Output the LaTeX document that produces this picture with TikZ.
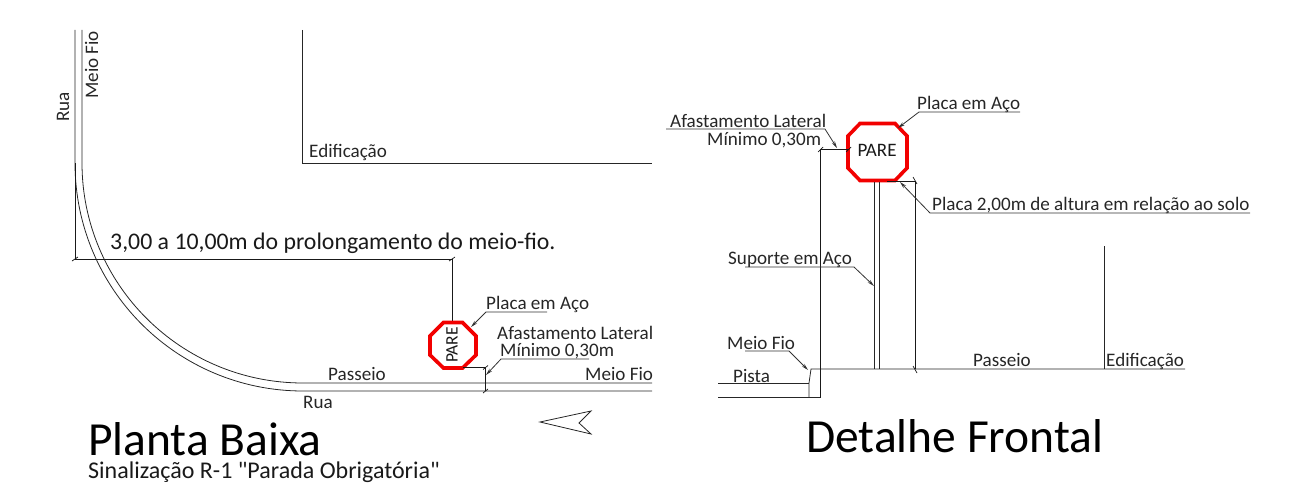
\documentclass[tikz,border=0pt]{standalone}
\usepackage{fontspec}
\setmainfont{Carlito}
\newfontfamily\rawfont{Carlito}
\usetikzlibrary{arrows.meta}
\tikzset{
  ln/.style={draw=black!85,line width=0.8pt},
  dim/.style={draw=black!90,line width=0.7pt},
  lead/.style={draw=black!80,line width=0.8pt,-{Stealth[length=7pt,width=3.5pt]}},
  lbl/.style={inner sep=0pt,anchor=base west,text=black!85,font=\fontsize{19.1}{19}\selectfont},
  lblv/.style={inner sep=0pt,anchor=base west,rotate=90,text=black!85,font=\fontsize{19.1}{19}\selectfont},
  sign/.style={draw=red!95!black,line width=3.6pt,line join=miter,fill=white},
}
\begin{document}
\begin{tikzpicture}[x=1pt,y=-1pt]
\useasboundingbox (0,0) rectangle (1303,495);
% ---------- plan ----------
\coordinate (ro) at (75,30); \coordinate (ri) at (82,30);
\coordinate (ca) at (75,163); \coordinate (cb) at (82,163);
\coordinate (fa) at (303,391); \coordinate (fb) at (303,383);
\coordinate (ea) at (652,391); \coordinate (eb) at (652,383);
\draw[ln] (ro) -- (ca) .. controls (75,289) and (177,391) .. (fa) -- (ea);
\draw[ln] (ri) -- (cb) .. controls (82,284.5) and (181,383) .. (fb) -- (eb);
\coordinate (ed1) at (302,30); \coordinate (ed2) at (302,163); \coordinate (ed3) at (652,163);
\draw[ln] (ed1) -- (ed2) -- (ed3);
\node[lbl] (tEd1) at (309,157) {Edificação};
\node[lblv] (tRua1) at (69,122) {Rua};
\node[lblv] (tMF1) at (98,99) {Meio Fio};
\node[lbl] (tPas1) at (328,380) {Passeio};
\node[lbl] (tRua2) at (303,408) {Rua};
\node[lbl] (tMF2) at (585,380) {Meio Fio};
% dimension along kerb extension
\coordinate (d2) at (75,259); \coordinate (d3) at (452,259); \coordinate (d4) at (452,322);
\draw[dim] (ca) -- (d2) -- (d3) -- (d4);
\draw[dim] (72,261) -- (78,257) (449,261) -- (455,257);
\node[inner sep=0pt,anchor=base west,text=black!90,font=\fontsize{23.8}{24}\selectfont] (tDim) at (110,249) {3,00 a 10,00m do prolongamento do meio-fio.};
% plan sign
\draw[sign] (443.5,322.5) -- (462.5,322.5) -- (476,336) -- (476,355) -- (462.5,368) -- (443.5,368) -- (430,355) -- (430,336) -- cycle;
\node[inner sep=0pt,rotate=90,text=black!90,font=\fontsize{17.5}{17.5}\selectfont] (pare1) at (452,345) {PARE};
% plan labels
\node[lbl] (tPl1) at (486,309) {Placa em Aço};
\coordinate (l1a) at (547,312); \coordinate (l1b) at (486,312); \coordinate (l1c) at (471,327);
\draw[lead] (l1a) -- (l1b) -- (l1c);
\node[lbl] (tAf1) at (497,339) {Afastamento Lateral};
\node[lbl] (tMi1) at (500,356) {Mínimo 0,30m};
\coordinate (l2a) at (589,359); \coordinate (l2b) at (501,359); \coordinate (l2c) at (486,375);
\draw[lead] (l2a) -- (l2b) -- (l2c);
\coordinate (d5) at (463,367.5); \coordinate (d6) at (485,367.5); \coordinate (d7) at (485,391);
\draw[dim] (d5) -- (d6) -- (d7);
\draw[dim] (483,369.5) -- (488,365.5) (483,393) -- (488,389);
% north arrow
\node[coordinate] (n1) at (540,422) {};
\node[coordinate] (n2) at (591,411) {};
\node[coordinate] (n3) at (579,423) {};
\node[coordinate] (n4) at (591,434) {};
\draw[ln] (n1) -- (n2) -- (n3) -- (n4) -- cycle;
% titles
\node[inner sep=0pt,anchor=base west,text=black,font=\fontsize{47.5}{47}\selectfont] (tPB) at (88,455) {Planta Baixa};
\node[inner sep=0pt,anchor=base west,text=black!90,font=\rawfont\fontsize{24}{24}\selectfont] (tSin) at (88,478) {Sinalização R-1 "Parada Obrigatória"};
\node[inner sep=0pt,anchor=base west,text=black,font=\fontsize{47.5}{47}\selectfont] (tDF) at (806,452) {Detalhe Frontal};
% ---------- front ----------
\draw[sign] (860,123.5) -- (895,123.5) -- (907,136) -- (907,168) -- (895,180.5) -- (860,180.5) -- (848,168) -- (848,136) -- cycle;
\node[inner sep=0pt,text=black!90,font=\fontsize{19}{19}\selectfont] (pare2) at (877,150) {PARE};
\coordinate (s1) at (874,182); \coordinate (s2) at (874,369);
\coordinate (s3) at (879,182); \coordinate (s4) at (879,369);
\draw[ln] (s1) -- (s2); \draw[ln] (s3) -- (s4);
% ground
\coordinate (g0) at (809,397); \coordinate (g1) at (809,383); \coordinate (g2) at (811,369); \coordinate (g3) at (1185,369);
\draw[ln] (g0) -- (g1) -- (g2) -- (g3);
\coordinate (p1) at (718,383); \coordinate (p2) at (809,383);
\coordinate (p3) at (718,397.5); \coordinate (p4) at (820,397.5);
\draw[ln] (p1) -- (p2); \draw[ln] (p3) -- (p4);
\coordinate (e1) at (1104,246); \coordinate (e2) at (1104,369);
\draw[ln] (e1) -- (e2);
% dims
\coordinate (a1) at (849,149.5); \coordinate (a2) at (820,149.5); \coordinate (a3) at (820,397.5);
\draw[dim] (a1) -- (a2) -- (a3);
\draw[dim] (818,152) -- (823,147) (846,152) -- (851,147);
\coordinate (b1) at (887,181); \coordinate (b2) at (915,181); \coordinate (b3) at (915,369);
\draw[dim] (b1) -- (b2) -- (b3);
\draw[dim] (913,177) -- (917,184) (913,366) -- (917,373);
% leaders
\node[lbl] (tPl2) at (917,109) {Placa em Aço};
\coordinate (l3a) at (1020,112); \coordinate (l3b) at (919,112); \coordinate (l3c) at (898,128);
\draw[lead] (l3a) -- (l3b) -- (l3c);
\node[lbl] (tAf2) at (670,127) {Afastamento Lateral};
\node[lbl] (tMi2) at (707,145) {Mínimo 0,30m};
\coordinate (l4a) at (666,129); \coordinate (l4b) at (825,129); \coordinate (l4c) at (837,148);
\draw[lead] (l4a) -- (l4b) -- (l4c);
\node[lbl] (tPl3) at (932,210) {Placa 2,00m de altura em relação ao solo};
\coordinate (l5a) at (1250,213); \coordinate (l5b) at (930,213); \coordinate (l5c) at (900,182);
\draw[lead] (l5a) -- (l5b) -- (l5c);
\node[lbl] (tSu) at (728,264) {Suporte em Aço};
\coordinate (l6a) at (745,267); \coordinate (l6b) at (854,267); \coordinate (l6c) at (874,286);
\draw[lead] (l6a) -- (l6b) -- (l6c);
\node[lbl] (tMF3) at (727,349) {Meio Fio};
\coordinate (l7a) at (745,351); \coordinate (l7b) at (789,351); \coordinate (l7c) at (808,370);
\draw[lead] (l7a) -- (l7b) -- (l7c);
\node[lbl] (tPi) at (733,382) {Pista};
\node[lbl] (tPas2) at (973,366) {Passeio};
\node[lbl] (tEd2) at (1106,366) {Edificação};
\end{tikzpicture}
\end{document}
